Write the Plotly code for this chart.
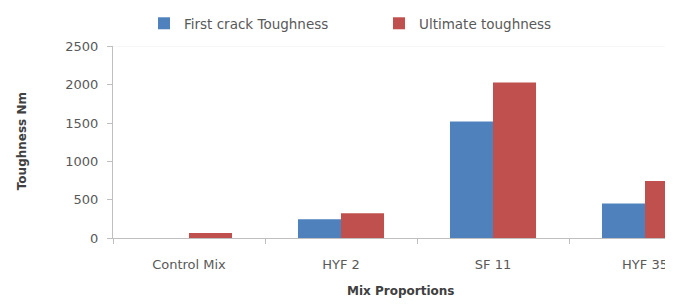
import plotly.graph_objects as go

categories = ["Control Mix", "HYF 2", "SF 11", "HYF 35"]
first_crack = [0, 245, 1520, 450]
ultimate = [65, 322, 2030, 745]
y_ticks = [0, 500, 1000, 1500, 2000, 2500]

FONT = "DejaVu Sans"
GRAY = "#595959"
AXIS = "#BFBFBF"

# the page body adds an 8px offset; lay out in reference pixels minus that offset
OFF = 8
W, H = 673 - OFF, 304 - OFF
L, T = 113 - OFF, 44 - OFF
R = 0
B = H - (238 - OFF)
cat_px = 152.0
x_hi = -0.5 + (W - L - R) / cat_px

fig = go.Figure()
fig.add_trace(go.Bar(x=categories, y=first_crack, name="First crack Toughness",
                     marker=dict(color="#4F81BD", line=dict(width=0))))
fig.add_trace(go.Bar(x=categories, y=ultimate, name="Ultimate toughness",
                     marker=dict(color="#C0504D", line=dict(width=0))))

pw = W - L - R
ph = H - T - B

fig.update_layout(
    width=W, height=H,
    margin=dict(l=L, r=R, t=T, b=B, pad=0),
    paper_bgcolor="white", plot_bgcolor="white",
    barmode="group", bargap=0.434, bargroupgap=0,
    font=dict(family=FONT, size=13, color=GRAY),
    showlegend=True,
    legend=dict(orientation="h", x=(144 - OFF - L) / pw, xanchor="left",
                yref="container", y=1.0, yanchor="top",
                font=dict(family=FONT, size=13.5, color=GRAY),
                entrywidthmode="pixels", entrywidth=190,
                traceorder="normal"),
    xaxis=dict(type="category", range=[-0.5, x_hi],
               showline=True, linecolor=AXIS, linewidth=1,
               ticks="outside", tickson="boundaries", ticklen=5, tickcolor=AXIS,
               showgrid=False, zeroline=False,
               tickfont=dict(family=FONT, size=13, color=GRAY),
               ticklabelstandoff=14),
    yaxis=dict(range=[0, 2500], tickvals=y_ticks,
               showline=True, linecolor=AXIS, linewidth=1,
               ticks="outside", ticklen=5, tickcolor=AXIS,
               showgrid=False, zeroline=False,
               tickfont=dict(family=FONT, size=13, color=GRAY),
               ticklabelstandoff=6),
    shapes=[dict(type="line", xref="paper", yref="y", x0=0, x1=1, y0=2500, y1=2500,
                 line=dict(color="#EDEDED", width=1))],
    annotations=[
        dict(text="<b>Mix Proportions</b>", xref="paper", yref="paper",
             x=(400 - OFF - L) / pw, y=-(292 - 238) / ph,
             xanchor="center", yanchor="middle", showarrow=False,
             font=dict(family=FONT, size=12, color="#404040")),
        dict(text="<b>Toughness Nm</b>", xref="paper", yref="paper",
             x=-(113 - 22) / pw, y=(238 - 140) / ph,
             xanchor="center", yanchor="middle", textangle=-90, showarrow=False,
             font=dict(family=FONT, size=12, color="#404040")),
    ],
)

fig.write_html("out.html")
